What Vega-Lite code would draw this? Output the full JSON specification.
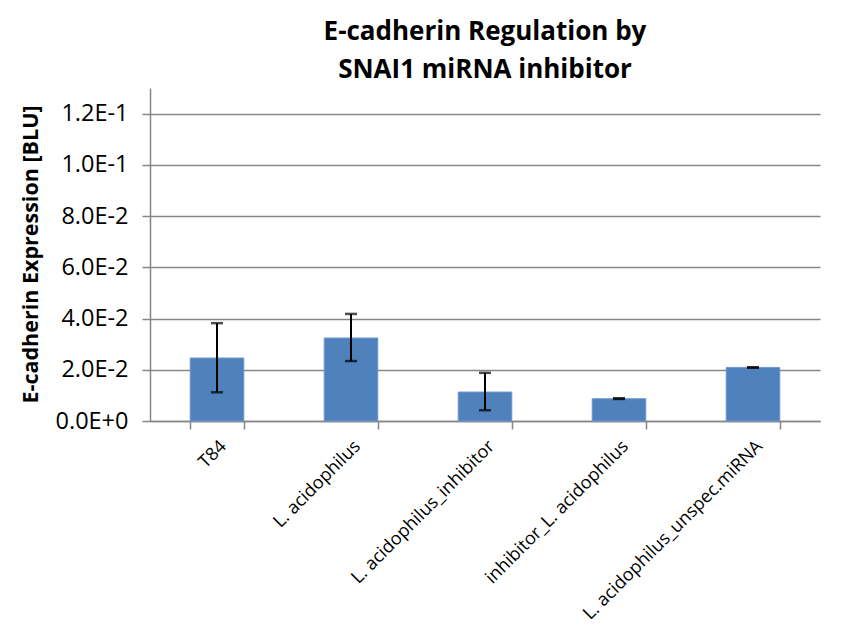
{
  "$schema": "https://vega.github.io/schema/vega-lite/v6.json",
  "autosize": {"type": "none"},
  "width": 670,
  "height": 333,
  "padding": {"left": 150, "top": 88, "right": 39, "bottom": 216},
  "background": "white",
  "title": {
    "text": ["E-cadherin Regulation by", "SNAI1 miRNA inhibitor"],
    "font": "Open Sans",
    "fontSize": 26,
    "fontWeight": "bold",
    "color": "black",
    "anchor": "middle",
    "lineHeight": 38,
    "offset": 5
  },
  "data": {
    "values": [
      {"group": "T84", "value": 0.0246, "lo": 0.0112, "hi": 0.0382},
      {"group": "L. acidophilus", "value": 0.0324, "lo": 0.0234, "hi": 0.0418},
      {"group": "L. acidophilus_inhibitor", "value": 0.0113, "lo": 0.0042, "hi": 0.0188},
      {"group": "inhibitor_L. acidophilus", "value": 0.0087, "lo": 0.0086, "hi": 0.0089},
      {"group": "L. acidophilus_unspec.miRNA", "value": 0.0209, "lo": 0.0208, "hi": 0.021}
    ]
  },
  "encoding": {
    "x": {
      "field": "group",
      "type": "nominal",
      "sort": null,
      "scale": {"paddingInner": 0.6, "paddingOuter": 0.3},
      "axis": {
        "title": null,
        "labelAngle": -45,
        "labelFont": "Open Sans",
        "labelFontSize": 18,
        "labelColor": "black",
        "labelPadding": 8,
        "labelLimit": 0,
        "tickBand": "extent",
        "ticks": true,
        "tickSize": 8,
        "tickColor": "#868686",
        "tickWidth": 1.5,
        "domainColor": "#868686",
        "domainWidth": 1.5,
        "grid": false
      }
    }
  },
  "layer": [
    {
      "mark": {"type": "bar", "color": "#4f81bd", "stroke": "#6f98cc", "strokeWidth": 1},
      "encoding": {
        "y": {
          "field": "value",
          "type": "quantitative",
          "title": "E-cadherin Expression [BLU]",
          "scale": {"domain": [0, 0.13], "nice": false},
          "axis": {
            "titleFont": "Open Sans",
            "titleFontSize": 21.5,
            "titleFontWeight": "bold",
            "titleColor": "black",
            "titleX": -108,
            "titleY": 166,
            "values": [0, 0.02, 0.04, 0.06, 0.08, 0.1, 0.12],
            "labelExpr": "replace(format(datum.value, '.1e'), 'e', 'E')",
            "labelFont": "Open Sans",
            "labelFontSize": 23.5,
            "labelColor": "black",
            "labelPadding": 14,
            "tickSize": 8,
            "tickColor": "#868686",
            "tickWidth": 1.5,
            "domainColor": "#868686",
            "domainWidth": 1.5,
            "grid": true,
            "gridColor": "#868686",
            "gridWidth": 1.5
          }
        }
      }
    },
    {
      "mark": {
        "type": "errorbar",
        "ticks": {"size": 12, "color": "black", "thickness": 2.5},
        "rule": {"color": "black", "strokeWidth": 2}
      },
      "encoding": {
        "y": {"field": "lo", "type": "quantitative", "title": "E-cadherin Expression [BLU]"},
        "y2": {"field": "hi"}
      }
    }
  ],
  "config": {
    "view": {"stroke": null}
  }
}
